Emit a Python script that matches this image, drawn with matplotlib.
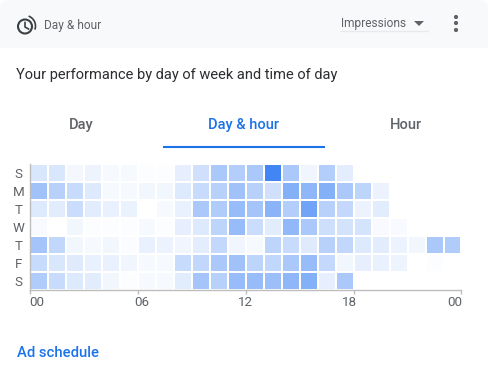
import numpy as np
import matplotlib.pyplot as plt
from matplotlib.colors import LinearSegmentedColormap
from matplotlib.patches import Arc, Circle, FancyBboxPatch, Polygon, Rectangle

plt.rcParams['font.family'] = ['Roboto', 'DejaVu Sans']

days = ['S', 'M', 'T', 'W', 'T', 'F', 'S']
hour_ticks = [0, 6, 12, 18, 24]
hour_labels = ['00', '06', '12', '18', '00']
label_shift = [7, 4, 0, -4, -7]

sun = [.20, .20, .06, .09, .05, .05, .02, .02, .13, .25, .45, .40,
       .45, 1.0, .45, .08, .40, .15, 0, 0, 0, 0, 0, 0]
mon = [.50, .38, .30, .18, .05, .05, .07, .07, .18, .30, .38, .50,
       .38, .25, .65, .60, .65, .45, .35, .10, 0, 0, 0, 0]
tue = [.18, .16, .28, .16, .12, .11, 0, .05, .12, .45, .42, .55,
       .48, .62, .40, .75, .38, .32, .10, .16, 0, 0, 0, 0]
wed = [.04, 0, .07, .02, .02, .02, .05, .02, .13, .18, .35, .55,
       .28, .16, .58, .45, .26, .23, .22, .04, .04, 0, 0, 0]
thu = [.48, .33, .07, .05, .07, .03, .12, .10, .08, .15, .32, .08,
       .05, .35, .30, .17, .38, .33, .18, .16, .10, .07, .45, .42]
fri = [.30, .20, .17, .12, .12, .08, .05, .05, .30, .33, .45, .50,
       .35, .33, .45, .55, .32, .07, .13, .12, .09, 0, .02, 0]
sat = [.42, .30, .18, .16, .07, .02, .05, .05, .16, .48, .38, .55,
       .55, .52, .60, .65, .13, .45, 0, 0, 0, 0, 0, 0]

W, H = 488, 377
fig = plt.figure(figsize=(W / 100, H / 100), dpi=100)

# page layer, in pixels
bg = fig.add_axes([0, 0, 1, 1])
bg.set_xlim(0, W)
bg.set_ylim(H, 0)
bg.axis('off')
bg.add_patch(FancyBboxPatch((0, 0), W, 60, boxstyle='round,pad=0,rounding_size=8',
                            fc='#f8f9fa', ec='none'))
bg.add_patch(Rectangle((0, 48), W, 14, fc='white', ec='none'))

# clock icon
bg.add_patch(Circle((25, 26.5), 7, fc='none', ec='#3c4043', lw=1.5))
bg.plot([25, 25, 28.5], [22.5, 27, 29], color='#3c4043', lw=1.2)
bg.add_patch(Arc((25, 26), 21, 21, theta1=-70, theta2=20, color='#3c4043', lw=1.2))
bg.text(44, 25, 'Day & hour', fontsize=8.6, color='#5f6368', va='center')

bg.text(341, 23, 'Impressions', fontsize=8.6, color='#5f6368', va='center')
bg.add_patch(Polygon([[414, 21], [424, 21], [419, 26]], fc='#5f6368', ec='none'))
bg.plot([341, 428], [30.5, 30.5], color='#e8eaed', lw=1)
for y in [17, 23, 30]:
    bg.add_patch(Circle((456, y), 2.1, fc='#5f6368', ec='none'))

bg.text(16.5, 74.5, 'Your performance by day of week and time of day',
        fontsize=10.5, color='#2b2d30', va='center')

bg.text(81, 125, 'Day', fontsize=10.5, color='#5f6368', ha='center', va='center', fontweight='medium')
bg.text(243.5, 125, 'Day & hour', fontsize=10.5, color='#1a73e8', ha='center', va='center', fontweight='medium')
bg.text(406, 125, 'Hour', fontsize=10.5, color='#5f6368', ha='center', va='center', fontweight='medium')
bg.plot([163, 325], [147, 147], color='#1a73e8', lw=1.5, solid_capstyle='butt')

bg.text(17, 353, 'Ad schedule', fontsize=10.6, color='#1a73e8', va='center', fontweight='medium')

# heatmap
x0, x1, y0, y1 = 30, 461.5, 164, 290
ax = fig.add_axes([x0 / W, 1 - y1 / H, (x1 - x0) / W, (y1 - y0) / H])
ax.patch.set_alpha(0)
grid = np.array([sun, mon, tue, wed, thu, fri, sat])
cmap = LinearSegmentedColormap.from_list('blues', ['#ffffff', '#4285f4'])
ax.pcolormesh(np.arange(25), np.arange(8), grid, cmap=cmap, vmin=0, vmax=1,
              edgecolors='white', linewidth=1.2)
ax.set_xlim(0, 24)
ax.set_ylim(7, 0)

for s in ['top', 'right']:
    ax.spines[s].set_visible(False)
for s in ['left', 'bottom']:
    ax.spines[s].set_color('#bdbdbd')
    ax.spines[s].set_linewidth(1)

ax.set_yticks([])
for i, d in enumerate(days):
    ax.annotate(d, (0, i + 0.5), xytext=(-8.2, -1.4), textcoords='offset points',
                ha='center', va='center', fontsize=9.6, color='#5f6368',
                annotation_clip=False)

ax.set_xticks(hour_ticks)
ax.set_xticklabels([])
ax.tick_params(axis='x', length=3, width=1, color='#bdbdbd')
for t, lab, dx in zip(hour_ticks, hour_labels, label_shift):
    ax.annotate(lab, (t, 7), xytext=(dx * 0.72, -9.2), textcoords='offset points',
                ha='center', va='center', fontsize=9.6, color='#5f6368',
                annotation_clip=False)

fig.savefig('out.png', dpi=100)
